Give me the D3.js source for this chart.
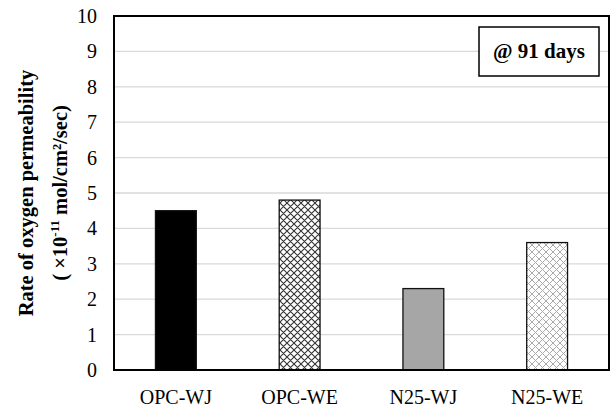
<!DOCTYPE html>
<html>
<head>
<meta charset="utf-8">
<script src="https://cdn.jsdelivr.net/npm/d3@7"></script>
<style>
  body { margin: 0; background: #fff; }
  text { font-family: "Liberation Serif", "Times New Roman", serif; }
</style>
</head>
<body>
<div class="canvas"></div>
<script>
// data
const categories = ['OPC-WJ', 'OPC-WE', 'N25-WJ', 'N25-WE'];
const values = [4.5, 4.8, 2.3, 3.6];
const yTicks = [0, 1, 2, 3, 4, 5, 6, 7, 8, 9, 10];

const W = 611, H = 407;
const m = { left: 114, right: 2, top: 16, bottom: 37 };

const svg = d3.select('.canvas').append('svg').attr('width', W).attr('height', H);
const defs = svg.append('defs');

// crosshatch patterns (diamond-ish)
function hatch(id, col, sw) {
  const p = defs.append('pattern').attr('id', id).attr('patternUnits', 'userSpaceOnUse')
    .attr('width', 7).attr('height', 7);
  p.append('rect').attr('width', 7).attr('height', 7).attr('fill', '#fff');
  p.append('path').attr('d', 'M0,0 L7,7 M7,0 L0,7 M-2,2 L2,-2 M5,9 L9,5 M-2,5 L2,9 M5,-2 L9,2')
    .attr('stroke', col).attr('stroke-width', sw).attr('fill', 'none');
}
hatch('hDark', '#333', 1.1);
hatch('hLight', '#aaa', 1);

const fills = ['#000', 'url(#hDark)', '#a6a6a6', 'url(#hLight)'];

const x = d3.scaleBand().domain(categories).range([m.left, W - m.right]).paddingInner(0.67).paddingOuter(0.335);
const y = d3.scaleLinear().domain([0, 10]).range([H - m.bottom, m.top]);

// gridlines
svg.append('g').selectAll('line').data(yTicks.slice(1, -1)).join('line')
  .attr('x1', m.left).attr('x2', W - m.right)
  .attr('y1', d => y(d)).attr('y2', d => y(d))
  .attr('stroke', '#d9d9d9').attr('stroke-width', 1.3);

// bars
svg.append('g').selectAll('rect').data(values).join('rect')
  .attr('x', (d, i) => x(categories[i]))
  .attr('y', d => y(d))
  .attr('width', x.bandwidth())
  .attr('height', d => y(0) - y(d))
  .attr('fill', (d, i) => fills[i])
  .attr('stroke', '#111').attr('stroke-width', 1.3);

// plot frame
svg.append('rect').attr('x', m.left).attr('y', m.top)
  .attr('width', W - m.right - m.left).attr('height', H - m.bottom - m.top)
  .attr('fill', 'none').attr('stroke', '#000').attr('stroke-width', 2);

// y axis labels
const yAxis = d3.axisLeft(y).tickValues(yTicks).tickSize(0).tickPadding(17);
const gy = svg.append('g').attr('transform', `translate(${m.left},0)`).call(yAxis);
gy.select('.domain').remove();
gy.selectAll('text').attr('font-size', 20).attr('fill', '#000')
  .style('font-family', '"Liberation Serif", serif');

// x axis labels
const xAxis = d3.axisBottom(x).tickSize(0).tickPadding(20);
const gx = svg.append('g').attr('transform', `translate(0,${H - m.bottom})`).call(xAxis);
gx.select('.domain').remove();
gx.selectAll('text').attr('font-size', 20).attr('fill', '#000')
  .style('font-family', '"Liberation Serif", serif');

// y title
const cy = (m.top + H - m.bottom) / 2;
svg.append('text').attr('transform', `translate(33,${cy}) rotate(-90)`)
  .attr('text-anchor', 'middle').attr('font-size', 20.5).attr('font-weight', 'bold')
  .text('Rate of oxygen permeability');
const t2 = svg.append('text').attr('transform', `translate(67,${cy}) rotate(-90)`)
  .attr('text-anchor', 'middle').attr('font-size', 20.5).attr('font-weight', 'bold');
t2.append('tspan').text('( \u00D710');
t2.append('tspan').attr('dy', -8).attr('font-size', 13).text('-11');
t2.append('tspan').attr('dy', 8).text(' mol/cm\u00B2/sec)');

// label box
svg.append('rect').attr('x', 479).attr('y', 27).attr('width', 120).attr('height', 49)
  .attr('fill', '#fff').attr('stroke', '#000').attr('stroke-width', 1.5);
svg.append('text').attr('x', 539).attr('y', 58).attr('text-anchor', 'middle')
  .attr('font-size', 21).attr('font-weight', 'bold').text('@ 91 days');
</script>
</body>
</html>
